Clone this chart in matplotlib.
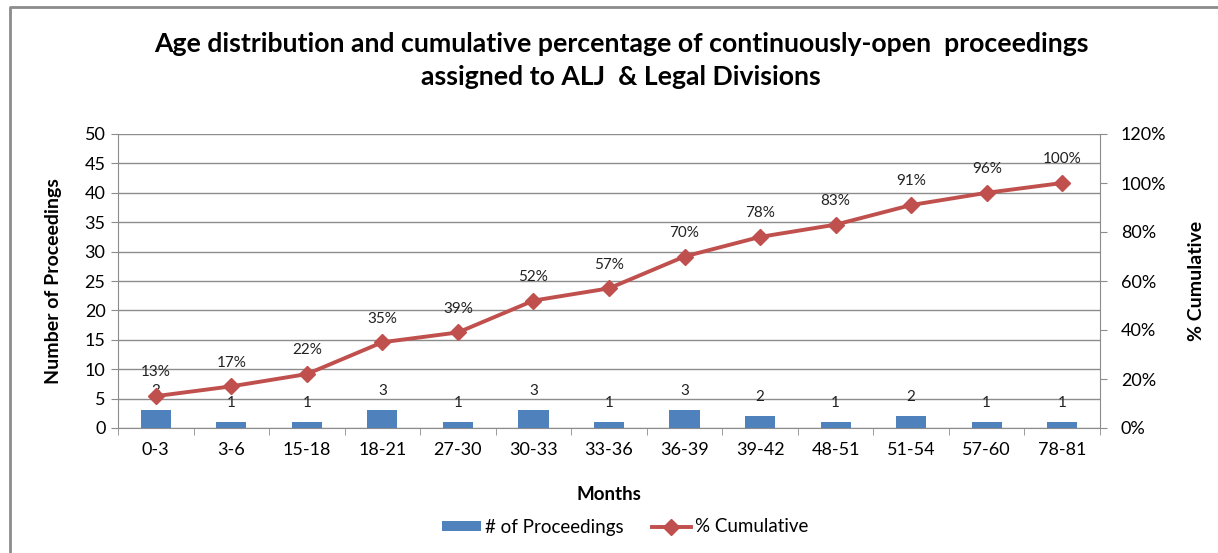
import matplotlib
matplotlib.use("Agg")
import matplotlib.pyplot as plt
from matplotlib.lines import Line2D
from matplotlib.patches import Patch
import numpy as np

plt.rcParams['font.family'] = ['Lato', 'DejaVu Sans']

months = ["0-3", "3-6", "15-18", "18-21", "27-30", "30-33", "33-36",
          "36-39", "39-42", "48-51", "51-54", "57-60", "78-81"]
proceedings = [3, 1, 1, 3, 1, 3, 1, 3, 2, 1, 2, 1, 1]
cumulative_pct = [13, 17, 22, 35, 39, 52, 57, 70, 78, 83, 91, 96, 100]

bar_color = '#4F81BD'
line_color = '#C0504D'
grid_color = '#8C8C8C'

fig = plt.figure(figsize=(12.18, 5.53), dpi=100)
ax = fig.add_axes([118 / 1218, 1 - 428 / 553, (1100 - 118) / 1218, (428 - 134) / 553])
ax2 = ax.twinx()

x = np.arange(len(months))
ax.bar(x, proceedings, width=0.4, color=bar_color, zorder=2)
for xi, v in zip(x, proceedings):
    ax.annotate(str(v), (xi, v), xytext=(0, 9), textcoords='offset points',
                ha='center', va='bottom', fontsize=11, color='#222222')

ax.set_ylim(0, 50)
ax.set_yticks(range(0, 51, 5))
ax.set_xlim(-0.5, len(months) - 0.5)
ax.set_xticks(x)
ax.set_xticklabels(months)
ax.set_xticks(np.arange(-0.5, len(months), 1), minor=True)
ax.tick_params(axis='x', which='major', length=0, pad=10, labelsize=13)
ax.tick_params(axis='x', which='minor', length=5, color=grid_color)
ax.tick_params(axis='y', length=5, color=grid_color, labelsize=13, pad=4)
ax.yaxis.grid(True, color=grid_color, lw=1)
ax.set_axisbelow(True)
for s in ['top', 'right']:
    ax.spines[s].set_visible(False)
ax.spines['left'].set_color(grid_color)
ax.spines['bottom'].set_color(grid_color)

ax2.plot(x, [p / 100 for p in cumulative_pct], color=line_color, lw=2.8,
         marker='D', markersize=8, zorder=3)
for xi, p in zip(x, cumulative_pct):
    ax2.annotate(f"{p}%", (xi, p / 100), xytext=(0, 12), textcoords='offset points',
                 ha='center', va='bottom', fontsize=11, color='#222222')
ax2.set_ylim(0, 1.2)
ax2.set_yticks(np.arange(0, 1.21, 0.2))
ax2.set_yticklabels([f"{int(round(t * 100))}%" for t in np.arange(0, 1.21, 0.2)])
ax2.tick_params(axis='y', length=5, color=grid_color, labelsize=13, pad=10)
for s in ['top', 'left', 'bottom']:
    ax2.spines[s].set_visible(False)
ax2.spines['right'].set_color(grid_color)

ax.set_ylabel("Number of Proceedings", fontsize=14, fontweight='bold')
ax.yaxis.set_label_coords(-0.057, 0.5)
ax2.set_ylabel("% Cumulative", fontsize=14, fontweight='bold')
ax2.yaxis.set_label_coords(1.0896, 0.5)
ax.set_xlabel("Months", fontsize=13.5, fontweight='bold')
ax.xaxis.set_label_coords(0.5, -0.197)

fig.text(0.51, 1 - 44 / 553,
         "Age distribution and cumulative percentage of continuously-open  proceedings",
         ha='center', va='center', fontsize=19.2, fontweight='bold')
fig.text(0.51, 1 - 77 / 553, "assigned to ALJ  & Legal Divisions",
         ha='center', va='center', fontsize=19.2, fontweight='bold')

handles = [Patch(facecolor=bar_color, edgecolor='none'),
           Line2D([0], [0], color=line_color, lw=2.8, marker='D', markersize=8)]
fig.legend(handles, ["# of Proceedings", "% Cumulative"], loc='center',
           bbox_to_anchor=(0.513, 1 - 527 / 553), ncol=2, frameon=False,
           fontsize=13.5, handlelength=2.1, handletextpad=0.2, columnspacing=1.5,
           handleheight=0.5)

# outer chart frame (top and left edges visible)
fig.add_artist(Line2D([10 / 1218, 10 / 1218, 1.0], [0.0, 1 - 7 / 553, 1 - 7 / 553],
                      transform=fig.transFigure, color='#8C8C8C', lw=2))

fig.savefig("out.png", dpi=100, facecolor='white')
